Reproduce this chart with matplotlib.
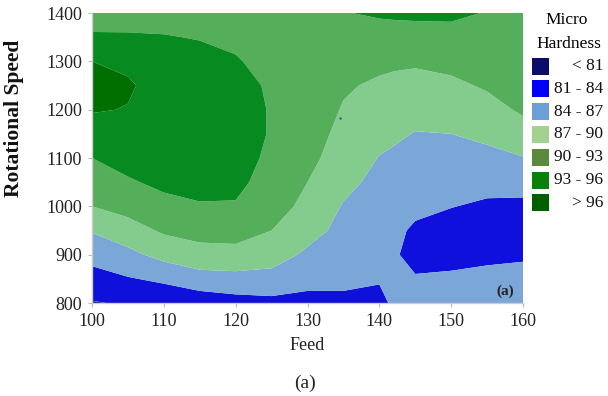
import numpy as np
import matplotlib
matplotlib.use("Agg")
import matplotlib.pyplot as plt
from matplotlib.patches import Rectangle

# ---- data ----
feeds = [100, 105, 110, 115, 120, 125, 130, 135, 140, 142, 145, 150, 155, 160]
speeds = [800, 850, 900, 950, 1000, 1050, 1100, 1150, 1200, 1250, 1300, 1350, 1400]
# hardness values, one list per feed (ordered by speed 800 -> 1400)
h_f100 = [80.8, 82.9, 85.0, 87.2, 90.0, 91.5, 93.0, 94.8, 96.2, 96.8, 96.0, 93.3, 91.9]
h_f105 = [81.3, 83.8, 86.2, 88.8, 91.0, 92.7, 94.0, 95.2, 95.9, 96.3, 95.5, 93.3, 91.8]
h_f110 = [82.0, 84.5, 88.0, 90.4, 92.2, 93.6, 94.5, 95.0, 95.2, 95.0, 94.5, 93.2, 91.5]
h_f115 = [82.5, 85.5, 89.5, 90.5, 92.8, 93.8, 94.5, 94.8, 94.9, 94.7, 94.2, 92.8, 91.3]
h_f120 = [83.0, 85.8, 89.6, 90.5, 92.8, 93.6, 94.0, 94.2, 94.2, 94.0, 93.2, 92.5, 91.3]
h_f125 = [83.2, 86.0, 88.3, 90.0, 91.3, 92.0, 92.5, 92.8, 92.8, 92.6, 92.2, 91.8, 91.5]
h_f130 = [83.0, 85.0, 86.5, 88.0, 89.2, 90.0, 90.8, 91.3, 91.6, 91.8, 92.0, 92.2, 92.6]
h_f135 = [83.3, 84.7, 85.5, 86.2, 86.8, 87.8, 88.6, 89.2, 89.8, 90.3, 91.0, 92.0, 92.9]
h_f140 = [83.0, 84.3, 84.8, 85.2, 85.7, 86.2, 86.9, 87.8, 88.7, 89.6, 90.6, 92.0, 93.3]
h_f142 = [84.6, 84.6, 84.3, 84.6, 85.3, 85.9, 86.6, 87.4, 88.3, 89.3, 90.5, 92.0, 93.4]
h_f145 = [85.0, 84.2, 83.2, 83.6, 84.6, 85.5, 86.3, 86.9, 87.8, 89.0, 90.4, 92.0, 93.5]
h_f150 = [85.5, 84.5, 83.0, 82.7, 84.1, 85.2, 86.2, 87.0, 88.0, 89.3, 91.0, 92.3, 93.4]
h_f155 = [86.0, 85.0, 83.2, 82.5, 83.5, 85.0, 86.4, 87.5, 88.8, 90.4, 91.6, 92.3, 92.9]
h_f160 = [86.2, 85.2, 83.5, 82.6, 83.3, 85.2, 86.9, 88.6, 90.5, 91.5, 92.0, 92.3, 92.5]

levels = [70, 81, 84, 87, 90, 93, 96, 100]
legend_labels = ["< 81", "81 - 84", "84 - 87", "87 - 90", "90 - 93", "93 - 96", "> 96"]
xticks = [100, 110, 120, 130, 140, 150, 160]
yticks = [800, 900, 1000, 1100, 1200, 1300, 1400]
point_feed = [134.5]
point_speed = [1183]

# ---- styles ----
fill_colors = ["#101068", "#1010dc", "#7aa6d8", "#84cc8e", "#55ae5a", "#078a1f", "#006f00"]
legend_colors = ["#0c0c6a", "#0000fa", "#6c9fd8", "#a3d28f", "#5a8a3c", "#0a800a", "#005f00"]
serif = ["Liberation Serif", "DejaVu Serif"]

W, H = 608, 396
fig = plt.figure(figsize=(W / 100, H / 100), dpi=100)
L, R, T, B = 92, 523, 13, 303
ax = fig.add_axes([L / W, 1 - B / H, (R - L) / W, (B - T) / H])

Z = np.array([h_f100, h_f105, h_f110, h_f115, h_f120, h_f125, h_f130,
              h_f135, h_f140, h_f142, h_f145, h_f150, h_f155, h_f160]).T
F, S = np.meshgrid(feeds, speeds)
ax.contourf(F, S, Z, levels=levels, colors=fill_colors, antialiased=True)
ax.scatter(point_feed, point_speed, s=3, color="#2f5fa8", zorder=3, linewidths=0)

ax.set_xlim(100, 160)
ax.set_ylim(800, 1400)
ax.set_xticks(xticks)
ax.set_yticks(yticks)
ax.tick_params(axis="both", length=3, width=0.8, color="#bbbbbb", labelsize=13, pad=4)
for lab in ax.get_xticklabels() + ax.get_yticklabels():
    lab.set_family(serif)
    lab.set_color("#222222")
for side in ["top", "right"]:
    ax.spines[side].set_visible(False)
for side in ["left", "bottom"]:
    ax.spines[side].set_color("#cccccc")
    ax.spines[side].set_linewidth(1.0)

ax.set_ylabel("Rotational Speed", family=serif, fontsize=15.5, fontweight="bold", color="#111111")
ax.yaxis.set_label_coords((24 - L) / (R - L), (B - 118) / (B - T))
ax.set_xlabel("Feed", family=serif, fontsize=13, color="#222222")
ax.xaxis.set_label_coords((307 - L) / (R - L), (B - 337) / (B - T))

fig.text(505 / W, 1 - 291 / H, "(a)", family=serif, fontsize=11, fontweight="bold",
         ha="center", va="center", color="#222222")
fig.text(305 / W, 1 - 383 / H, "(a)", family=serif, fontsize=14, ha="center", va="center",
         color="#222222")

# legend
fig.text(567 / W, 1 - 20 / H, "Micro", family=serif, fontsize=12.5, ha="center", va="center")
fig.text(569 / W, 1 - 44 / H, "Hardness", family=serif, fontsize=12.5, ha="center", va="center")
y0, dy = 66, 22.8
for i, (lab, col) in enumerate(zip(legend_labels, legend_colors)):
    yc = y0 + i * dy
    fig.add_artist(Rectangle((532 / W, 1 - (yc + 8.5) / H), 17 / W, 17 / H,
                             transform=fig.transFigure, facecolor=col, edgecolor="none"))
    fig.text(603 / W, 1 - yc / H, lab, family=serif, fontsize=12.5, ha="right", va="center",
             color="#111111")

fig.savefig("out.png", dpi=100)
